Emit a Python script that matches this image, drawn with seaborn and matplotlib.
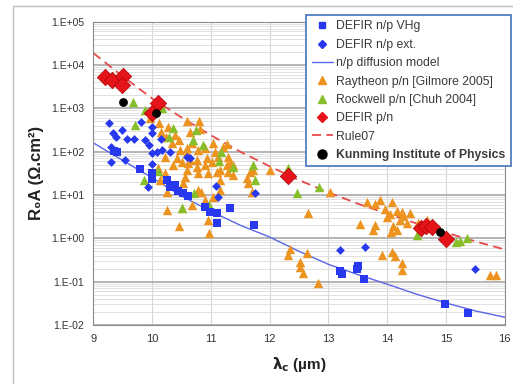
import numpy as np
import pandas as pd
import matplotlib
matplotlib.use('Agg')
import matplotlib.pyplot as plt
from matplotlib.ticker import FuncFormatter, LogLocator, FixedLocator
from matplotlib.lines import Line2D
from matplotlib.patches import Rectangle
import seaborn as sns

# DEFIR n/p VHg (blue squares)
vhg_lc = [9.35, 9.40, 9.79, 9.99, 9.99, 10.25, 10.30, 10.39, 10.44, 10.52, 10.61, 10.90,
          10.98, 11.10, 11.10, 11.32, 11.73, 13.19, 13.23, 13.48, 13.51, 13.60, 14.98, 15.37]
vhg_r0a = [104, 99, 40, 32, 23.5, 22, 15.4, 17, 12.4, 11.2, 9.5, 5.3,
           4.1, 3.9, 2.3, 5.0, 2.0, 0.177, 0.15, 0.196, 0.23, 0.116, 0.031, 0.019]

# DEFIR n/p ext. (blue diamonds)
ext_lc = [9.26, 9.33, 9.38, 9.48, 9.57, 9.69, 9.81, 9.99, 9.99, 9.88, 9.94, 10.15, 10.08,
          10.16, 10.30, 10.59, 10.64, 9.30, 9.30, 9.54, 9.99, 9.99, 9.93, 11.08, 11.12,
          11.75, 13.19, 13.62, 15.50]
ext_r0a = [460, 270, 220, 320, 198, 198, 490, 374, 270, 188, 144, 198, 99,
           110, 99, 76, 72, 129, 58, 65, 52, 94, 15.4, 16, 9.0,
           11.2, 0.54, 0.63, 0.197]

# Raytheon p/n [Gilmore 2005] (orange triangles)
ray_lc = [9.96, 10.11, 10.15, 10.27, 10.23, 10.39, 10.34, 10.45, 10.59, 10.64, 10.81, 10.68,
          10.59, 10.47, 10.22, 10.42, 10.35, 10.22, 10.10, 10.13, 10.51, 10.64, 10.76, 10.56,
          10.52, 10.78, 10.25, 10.79, 11.04, 11.20, 11.27, 10.78, 10.90, 10.59, 11.07, 11.12,
          11.29, 10.93, 10.90, 11.02, 10.76, 10.61, 10.59, 11.27, 11.29, 11.10, 10.95, 11.15,
          11.66, 11.61, 11.63, 11.70, 12.00, 11.15, 11.04, 10.90, 10.78, 10.68, 10.51, 10.25,
          10.45, 10.83, 10.95, 10.96, 11.32, 11.37, 11.37, 11.15, 11.71, 12.66, 13.02, 13.65,
          13.79, 13.87, 14.08, 13.96, 14.04, 14.16, 14.25, 14.26, 14.38, 14.21, 13.53, 13.79,
          13.75, 14.09, 14.06, 14.33, 14.52, 14.67, 12.34, 12.32, 12.63, 12.51, 12.51, 12.56,
          12.82, 13.91, 14.08, 14.13, 14.25, 14.25, 15.74, 15.85, 14.16, 13.99]
ray_r0a = [600, 460, 290, 370, 220, 245, 160, 190, 510, 290, 340, 160,
           120, 110, 76, 72, 50, 32, 42, 22, 58, 65, 45, 26,
           19, 32, 11.8, 510, 160, 129, 150, 110, 122, 94, 99, 76,
           76, 72, 50, 58, 65, 55, 38, 50, 34, 34, 32, 22,
           34, 25, 19, 11.8, 38, 13, 9.0, 7.7, 13, 5.9, 5.0, 4.5,
           1.94, 11.8, 2.7, 1.33, 55, 29, 50, 38, 38, 3.9, 11.8, 6.9,
           6.2, 7.7, 6.9, 4.8, 3.7, 4.3, 4.1, 3.3, 3.9, 2.7, 2.15, 2.0,
           1.56, 1.94, 1.4, 2.3, 2.3, 2.7, 0.57, 0.41, 0.46, 0.285, 0.22, 0.16,
           0.093, 0.41, 0.485, 0.39, 0.27, 0.186, 0.143, 0.143, 1.56, 3.1]

# Rockwell p/n [Chuh 2004] (green triangles)
rock_lc = [9.67, 9.88, 10.16, 9.71, 10.36, 10.29, 10.74, 10.70, 10.87, 11.18, 11.13, 11.38,
           11.72, 11.75, 12.31, 12.46, 12.84, 9.86, 10.10, 10.71, 10.50, 10.96, 14.51, 15.17,
           15.23, 15.36]
rock_r0a = [1390, 925, 1010, 415, 350, 223, 320, 188, 144, 100, 62, 45,
            50, 22, 42, 11.2, 15.6, 22, 35, 11.2, 4.9, 5.9, 1.2, 0.84,
            0.87, 1.0]

# DEFIR p/n (red diamonds)
pn_lc = [9.20, 9.31, 9.51, 9.48, 10.10, 9.99, 12.31, 14.58, 14.66, 14.76, 15.00]
pn_r0a = [5250, 4550, 5600, 3500, 1320, 800, 27, 1.75, 1.95, 1.85, 0.95]

# Kunming Institute of Physics (black dots)
kip_lc = [9.51, 10.06, 14.89]
kip_r0a = [1430, 800, 1.43]

# n/p diffusion model (blue line)
model_lc = [9, 9.5, 10, 10.5, 11, 11.5, 12, 12.5, 13, 13.5, 14, 14.5, 15, 15.5, 16]
model_r0a = [160, 63, 25, 9.5, 4.2, 2.0, 1.07, 0.50, 0.25, 0.145, 0.087, 0.051, 0.032, 0.021, 0.015]

# Rule07 (red dashed line)
rule_lc = [9, 9.5, 10, 10.5, 11, 11.5, 12, 12.5, 13, 13.5, 14, 14.5, 15, 15.5, 16]
rule_r0a = [1.9e4, 5.5e3, 1.7e3, 620, 240, 100, 46, 22, 11.5, 6.3, 3.7, 2.2, 1.35, 0.85, 0.55]

sns.set_style('white')
plt.rcParams['font.family'] = ['Liberation Sans', 'DejaVu Sans']

fig = plt.figure(figsize=(5.13, 3.84), dpi=100)
ax = fig.add_axes([0.182, 0.154, 0.802, 0.789])

c_blue = '#2838ee'
c_line = '#5a66e6'
c_orange = '#ec9320'
c_green = '#86bf2a'
c_red = '#e5141a'

sns.lineplot(x=model_lc, y=model_r0a, ax=ax, color=c_line, lw=1.0, zorder=2)
sns.lineplot(x=rule_lc, y=rule_r0a, ax=ax, color='#e84a4a', lw=1.3, zorder=2,
             dashes=False, linestyle=(0, (5, 3)))

sns.scatterplot(x=ray_lc, y=ray_r0a, ax=ax, marker='^', s=46, color=c_orange, linewidth=0, zorder=3)
sns.scatterplot(x=rock_lc, y=rock_r0a, ax=ax, marker='^', s=46, color=c_green, linewidth=0, zorder=3)
sns.scatterplot(x=ext_lc, y=ext_r0a, ax=ax, marker='D', s=20, color=c_blue, linewidth=0, zorder=4)
sns.scatterplot(x=vhg_lc, y=vhg_r0a, ax=ax, marker='s', s=30, color=c_blue, linewidth=0, zorder=4)
sns.scatterplot(x=pn_lc, y=pn_r0a, ax=ax, marker='D', s=70, color=c_red, edgecolor='#b00000',
                linewidth=0.5, zorder=5)
sns.scatterplot(x=kip_lc, y=kip_r0a, ax=ax, marker='o', s=40, color='black', linewidth=0, zorder=6)

ax.set_yscale('log')
ax.set_xlim(9, 16)
ax.set_ylim(1e-2, 1e5)
ax.xaxis.set_major_locator(FixedLocator(list(range(9, 17))))
ax.yaxis.set_major_locator(LogLocator(base=10, numticks=10))
ax.yaxis.set_minor_locator(LogLocator(base=10, subs=np.arange(2, 10), numticks=20))
ax.yaxis.set_major_formatter(FuncFormatter(lambda v, p: '1.E%+03d' % int(round(np.log10(v)))))
ax.yaxis.set_minor_formatter(FuncFormatter(lambda v, p: ''))

ax.grid(axis='y', which='major', color='#b4b4b4', lw=1.4, zorder=0)
ax.grid(axis='y', which='minor', color='#dcdcdc', lw=0.6, zorder=0)
ax.grid(axis='x', which='major', color='#d8d8d8', lw=0.8, zorder=0)
ax.set_axisbelow(True)

for sp in ax.spines.values():
    sp.set_color('#8c8c8c')
    sp.set_linewidth(0.8)
ax.tick_params(axis='both', which='major', labelsize=8, colors='#333333', length=3, width=0.6)
ax.tick_params(axis='y', which='minor', length=2, width=0.5, colors='#666666')
ax.tick_params(axis='y', which='major', labelsize=7.5)

ax.set_xlabel(r'$\mathbf{\lambda_c}$ (µm)', fontsize=11, fontweight='bold', color='#222222', labelpad=8)
ax.set_ylabel('R₀A (Ω.cm²)', fontsize=12, fontweight='bold', color='#222222', labelpad=5)

handles = [
    Line2D([], [], marker='s', ls='none', color=c_blue, markersize=5),
    Line2D([], [], marker='D', ls='none', color=c_blue, markersize=4),
    Line2D([], [], color=c_line, lw=1.0),
    Line2D([], [], marker='^', ls='none', color=c_orange, markersize=5.5),
    Line2D([], [], marker='^', ls='none', color=c_green, markersize=5.5),
    Line2D([], [], marker='D', ls='none', color=c_red, markersize=5),
    Line2D([], [], color='#e84a4a', lw=1.3, linestyle=(0, (5, 3))),
    Line2D([], [], marker='o', ls='none', color='black', markersize=6.5),
]
labels = ['DEFIR n/p VHg', 'DEFIR n/p ext.', 'n/p diffusion model',
          'Raytheon p/n [Gilmore 2005]', 'Rockwell p/n [Chuh 2004]', 'DEFIR p/n',
          'Rule07', 'Kunming Institute of Physics']
leg = fig.legend(handles, labels, loc='upper left', bbox_to_anchor=(0.597, 0.961),
                 bbox_transform=fig.transFigure, fontsize=8.8, frameon=True, fancybox=False,
                 framealpha=1, edgecolor='#4f7fbf', labelspacing=0.52, handlelength=1.7,
                 handletextpad=0.3, borderpad=0.45, borderaxespad=0)
leg.get_frame().set_linewidth(1.3)
for t in leg.get_texts():
    t.set_color('#3a3a3a')
leg.get_texts()[-1].set_fontweight('bold')

fig.patches.append(Rectangle((13 / 513, -0.01), 1.0, 1 - 6 / 384 + 0.01, transform=fig.transFigure,
                             fill=False, edgecolor='#bdbdbd', lw=1.0, zorder=-1))

fig.savefig('out.png', dpi=100)
